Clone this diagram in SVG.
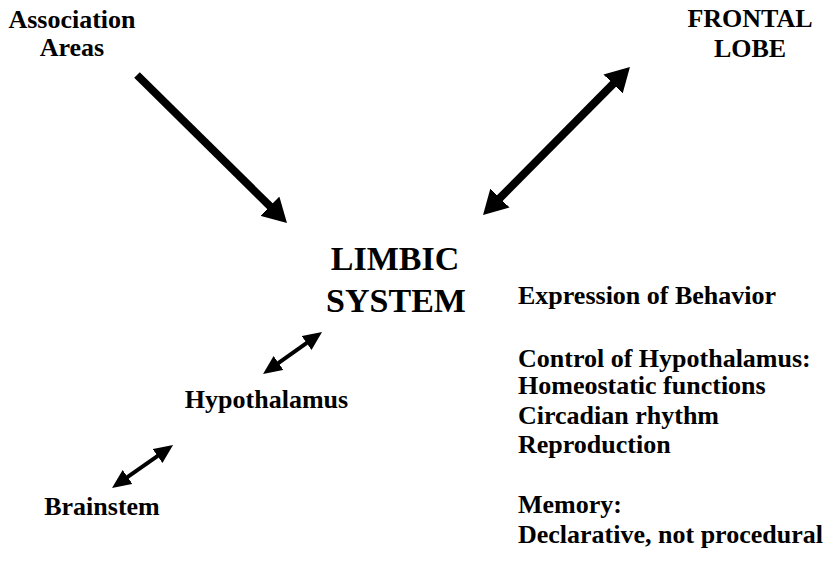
<svg xmlns="http://www.w3.org/2000/svg" width="829" height="566" viewBox="0 0 829 566">
<style>
text{font-family:'Liberation Serif','DejaVu Serif','Times New Roman',Times,serif;font-weight:700;fill:#000}
.t{font-size:26px}
.big{font-size:34px}
.c{text-anchor:middle}
.thick{stroke:#000;stroke-width:8;fill:none}
.thin{stroke:#000;stroke-width:4;fill:none}
</style>
<defs>
<marker id="hb" markerUnits="userSpaceOnUse" viewBox="0 0 24 27" refX="10" refY="13.5" markerWidth="24" markerHeight="27" orient="auto-start-reverse">
<path d="M0,0 L24,13.5 L0,27 Z" fill="#000"/>
</marker>
<marker id="hs" markerUnits="userSpaceOnUse" viewBox="0 0 19 17" refX="9" refY="8.5" markerWidth="19" markerHeight="17" orient="auto-start-reverse">
<path d="M0,0 L19,8.5 L0,17 Z" fill="#000"/>
</marker>
</defs>
<g id="connectors">
<line class="thick" x1="137" y1="75" x2="277" y2="213.2" marker-end="url(#hb)"/>
<line class="thick" x1="492.9" y1="205.1" x2="620.1" y2="76.9" marker-start="url(#hb)" marker-end="url(#hb)"/>
<line class="thin" x1="271.2" y1="368.2" x2="313.9" y2="337.8" marker-start="url(#hs)" marker-end="url(#hs)"/>
<line class="thin" x1="120.2" y1="482.2" x2="164.9" y2="450.8" marker-start="url(#hs)" marker-end="url(#hs)"/>
</g>
<g id="association-areas">
<text class="t c" x="72" y="28" font-family="Liberation Serif, serif">Association</text>
<text class="t c" x="72" y="56" font-family="Liberation Serif, serif">Areas</text>
</g>
<g id="frontal-lobe">
<text class="t c" x="750" y="27" font-family="Liberation Serif, serif">FRONTAL</text>
<text class="t c" x="750" y="57" font-family="Liberation Serif, serif">LOBE</text>
</g>
<g id="limbic-system">
<text class="big c" x="395" y="270" font-family="Liberation Serif, serif">LIMBIC</text>
<text class="big c" x="396" y="312" font-family="Liberation Serif, serif">SYSTEM</text>
</g>
<g id="hypothalamus">
<text class="t c" x="266.5" y="408" font-family="Liberation Serif, serif">Hypothalamus</text>
</g>
<g id="brainstem">
<text class="t c" x="102" y="515" font-family="Liberation Serif, serif">Brainstem</text>
</g>
<g id="functions">
<text class="t" x="518" y="304" font-family="Liberation Serif, serif">Expression of Behavior</text>
<text class="t" x="518" y="367" font-family="Liberation Serif, serif">Control of Hypothalamus:</text>
<text class="t" x="518" y="394" font-family="Liberation Serif, serif">Homeostatic functions</text>
<text class="t" x="518" y="424" font-family="Liberation Serif, serif">Circadian rhythm</text>
<text class="t" x="518" y="453" font-family="Liberation Serif, serif">Reproduction</text>
<text class="t" x="518" y="513" font-family="Liberation Serif, serif">Memory:</text>
<text class="t" x="518" y="543" font-family="Liberation Serif, serif">Declarative, not procedural</text>
</g>
</svg>
